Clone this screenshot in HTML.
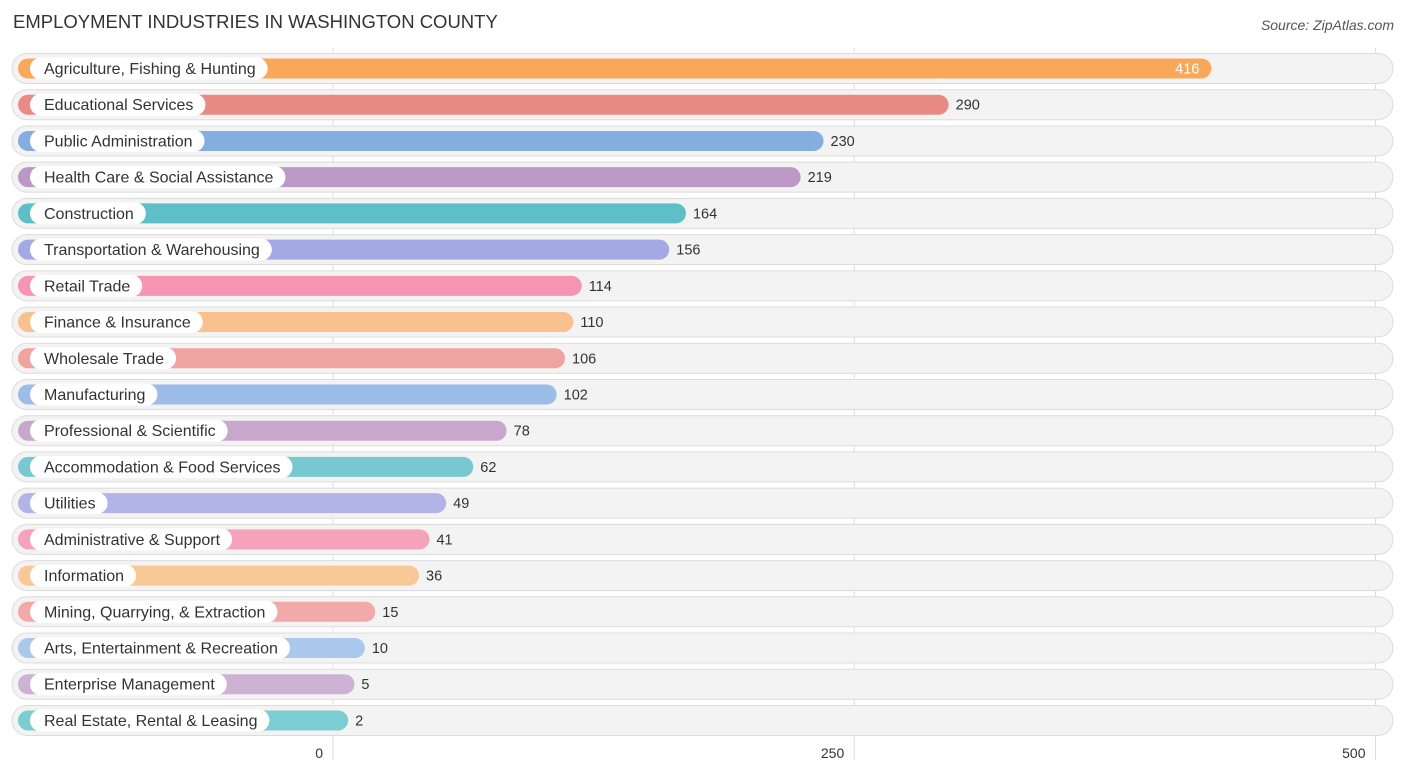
<!DOCTYPE html>
<html><head><meta charset="utf-8"><style>
body{margin:0;background:#fff;width:1406px;height:776px;overflow:hidden;font-family:"Liberation Sans",sans-serif}
</style></head><body>
<svg id="c" width="1406" height="776" xmlns="http://www.w3.org/2000/svg">
<text x="13" y="28" font-size="18.5" fill="#333">EMPLOYMENT INDUSTRIES IN WASHINGTON COUNTY</text>
<text x="1394" y="30" font-size="14" fill="#555" font-style="italic" text-anchor="end">Source: ZipAtlas.com</text>
<g id="grid"></g><g id="rows"></g><g id="ticks"></g>
</svg>
<script>
const categories=["Agriculture, Fishing & Hunting","Educational Services","Public Administration","Health Care & Social Assistance","Construction","Transportation & Warehousing","Retail Trade","Finance & Insurance","Wholesale Trade","Manufacturing","Professional & Scientific","Accommodation & Food Services","Utilities","Administrative & Support","Information","Mining, Quarrying, & Extraction","Arts, Entertainment & Recreation","Enterprise Management","Real Estate, Rental & Leasing"];
const values=[416,290,230,219,164,156,114,110,106,102,78,62,49,41,36,15,10,5,2];
const colors=["#f9a85a","#ea8a85","#84ade0","#bc98c6","#5fbfc9","#a4a9e6","#f595b3","#f9c18e","#efa4a0","#9bbde8","#c9a7cd","#77c8cf","#b2b4e8","#f5a2bc","#f9c896","#f2aaa8","#a9c8ec","#cdb2d4","#7ccdd2"];
const tickValues=[0,250,500];
const tickLabels=["0","250","500"];
const NS="http://www.w3.org/2000/svg";
const gx=v=>333+v*2.085;
const bx=v=>344+v*2.085;
const rowY=i=>68.5+i*36.22;
function mk(t,a,p){const e=document.createElementNS(NS,t);for(const k in a)e.setAttribute(k,a[k]);p.appendChild(e);return e;}
const grid=document.getElementById('grid'),rows=document.getElementById('rows'),ticks=document.getElementById('ticks');
tickValues.forEach((v,i)=>{
 const l=mk('line',{x1:gx(v),x2:gx(v),y1:48,y2:760,stroke:'#ddd','stroke-width':1},grid);
 
 
 const t=mk('text',{x:gx(v)-10,y:758,'font-size':14,fill:'#333','text-anchor':'end'},ticks);
 t.textContent=tickLabels[i];
 
 
});
categories.forEach((c,i)=>{
 const y=rowY(i);
 const g=mk('g',{},rows);
 
 
 mk('rect',{x:12,y:y-15,width:1381,height:30,rx:15,fill:'#f3f3f3',stroke:'#dcdcdc','stroke-width':1},g);
 const b=mk('rect',{x:18,y:y-10,width:bx(values[i])-18,height:20,rx:10,fill:colors[i]},g);
 
 
 const lbl=mk('text',{x:44,y:y+5.5,'font-size':16,fill:'#333'},g);
 lbl.textContent=c;
 const w=lbl.getComputedTextLength();
 const pill=mk('rect',{x:30,y:y-11,width:w+26,height:22,rx:11,fill:'#fff'},g);
 
 
 g.insertBefore(pill,lbl);
 const inside=values[i]>350;
 const vt=mk('text',{x:inside?bx(values[i])-12:bx(values[i])+7,y:y+5,'font-size':14.5,fill:inside?'#fff':'#333','text-anchor':inside?'end':'start'},g);
 vt.textContent=values[i];
 
 
});
</script>
</body></html>
